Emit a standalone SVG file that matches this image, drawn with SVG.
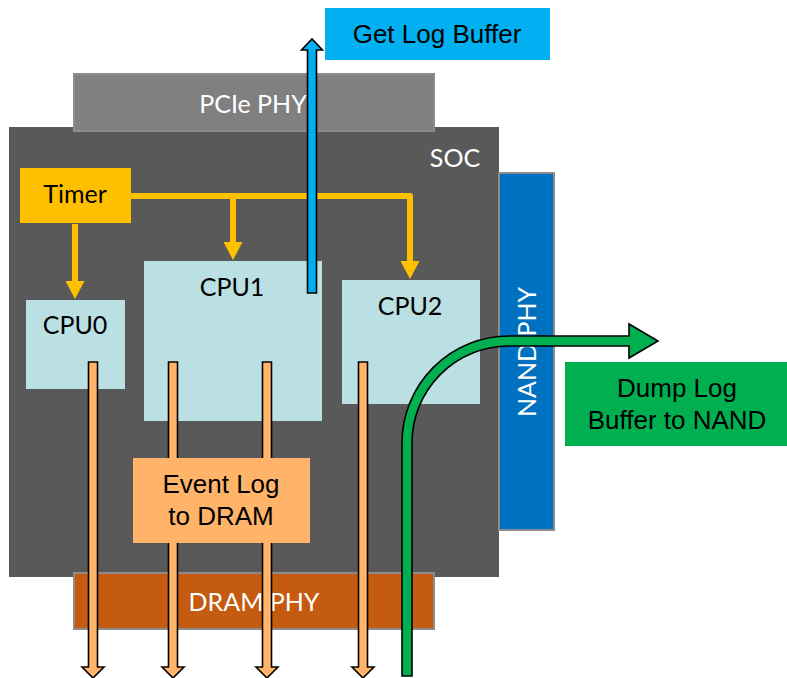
<svg xmlns="http://www.w3.org/2000/svg" width="787" height="678" viewBox="0 0 787 678">
<style>
.phy{stroke:#8C8C8C;stroke-width:2}
.cpu{fill:#BAE0E3}
.cal{font-family:Lato,"Open Sans","Liberation Sans",sans-serif;font-size:25px;text-anchor:middle}
.ari{font-family:"Liberation Sans",Arial,sans-serif;font-size:26px;text-anchor:middle;fill:#000}
.w{fill:#FFFFFF}
.k{fill:#000000}
.yl{fill:none;stroke:#FFC000;stroke-width:6;stroke-linejoin:round}
.blk{stroke:#000;stroke-width:1.6;stroke-linejoin:miter}
.org{fill:#FFB469}
</style>
<defs>
<marker id="ya" viewBox="0 0 18 19" refX="0" refY="9.5" markerWidth="18" markerHeight="19" markerUnits="userSpaceOnUse" orient="auto">
<path d="M0,0 L18,9.5 L0,19 Z" fill="#FFC000"/>
</marker>
</defs>
<rect width="787" height="678" fill="#FFFFFF"/>
<g id="soc">
<rect x="9" y="127" width="490" height="450" fill="#595959"/>
<text class="cal w" x="455" y="167">SOC</text>
</g>
<g id="pcie-phy">
<rect class="phy" x="74" y="74" width="360" height="57" fill="#808080"/>
<text class="cal w" x="253" y="113">PCIe PHY</text>
</g>
<g id="nand-phy">
<rect class="phy" x="499" y="173" width="55" height="357" fill="#0070C0"/>
<text class="cal w" transform="translate(536,352) rotate(-90)" x="0" y="0">NAND PHY</text>
</g>
<g id="dram-phy">
<rect class="phy" x="74" y="573" width="360" height="56" fill="#C55A11"/>
<text class="cal w" x="254" y="611">DRAM PHY</text>
</g>
<g id="timer">
<rect x="20" y="168" width="111" height="55" fill="#FFC000"/>
<text class="cal k" x="75" y="203">Timer</text>
</g>
<g id="cpu0">
<rect class="cpu" x="26" y="300" width="99" height="89"/>
<text class="cal k" x="75" y="334">CPU0</text>
</g>
<g id="cpu1">
<rect class="cpu" x="144" y="261" width="178" height="160"/>
<text class="cal k" x="232" y="296">CPU1</text>
</g>
<g id="cpu2">
<rect class="cpu" x="342" y="280" width="138" height="124"/>
<text class="cal k" x="410" y="315">CPU2</text>
</g>
<g id="get-log-buffer">
<rect x="325" y="8" width="225" height="52" fill="#00B0F0"/>
<text class="ari" x="437" y="43">Get Log Buffer</text>
</g>
<g id="dump-log">
<rect x="565" y="362" width="222" height="84" fill="#00B050"/>
<text class="ari" x="677" y="397">Dump Log</text>
<text class="ari" x="677" y="429">Buffer to NAND</text>
</g>
<g id="connectors">
<path class="yl" d="M131,196 H410 V261" marker-end="url(#ya)"/>
<path class="yl" d="M233,196 V242" marker-end="url(#ya)"/>
<path class="yl" d="M75,224 V281" marker-end="url(#ya)"/>
<path class="org blk" d="M88.5,362 H97.5 V667 H104 L93,678 L82,667 H88.5 Z"/>
<path class="org blk" d="M168.5,362 H177.5 V667 H184 L173,678 L162,667 H168.5 Z"/>
<path class="org blk" d="M262.5,362 H271.5 V667 H278 L267,678 L256,667 H262.5 Z"/>
<path class="org blk" d="M358.5,362 H367.5 V667 H374 L363,678 L352,667 H358.5 Z"/>
<path class="blk" fill="#00B0F0" d="M307.5,293 V50 H301.5 L312,39 L322.5,50 H316.5 V293 Z"/>
<path class="blk" fill="#00B050" d="M402,676 V443 A107,107 0 0 1 509,336 H629 V324 L658,341 L629,358 V346 H509 A97,97 0 0 0 412,443 V676 Z"/>
</g>
<g id="event-log">
<rect x="133" y="458" width="177" height="85" fill="#FFB469"/>
<text class="ari" x="221" y="493">Event Log</text>
<text class="ari" x="221" y="525">to DRAM</text>
</g>
</svg>
